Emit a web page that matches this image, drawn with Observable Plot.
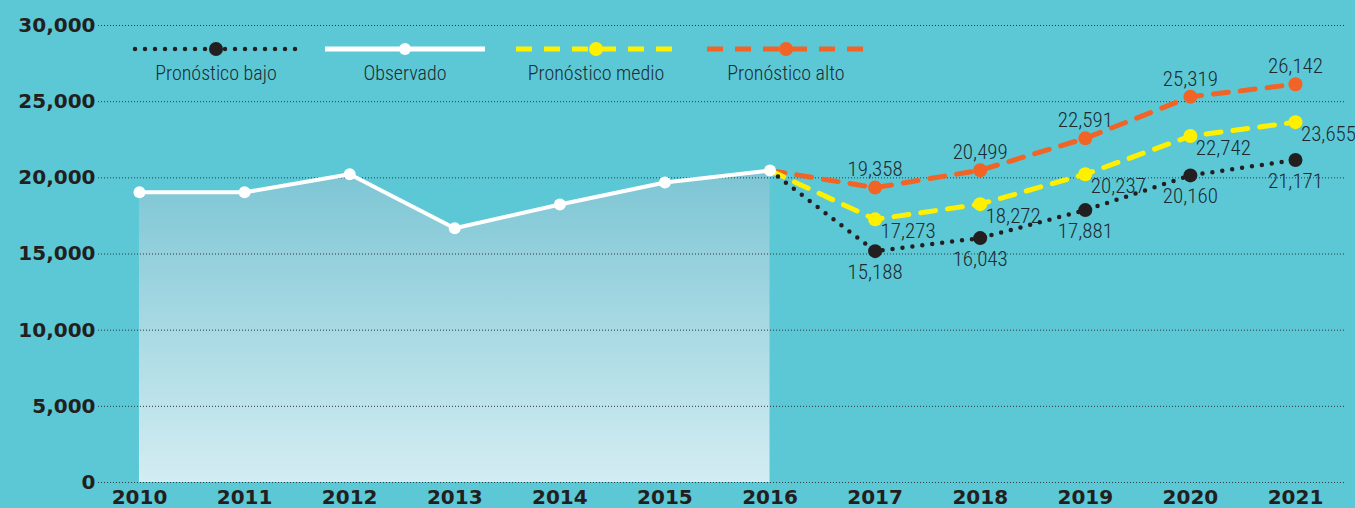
<!DOCTYPE html>
<html>
<head>
<meta charset="utf-8">
<script src="https://cdn.jsdelivr.net/npm/d3@7"></script>
<script src="https://cdn.jsdelivr.net/npm/@observablehq/plot@0.6"></script>
<style>
  html, body { margin: 0; padding: 0; background: #5cc8d6; }
  #wrap { position: relative; width: 1355px; height: 508px; background: #5cc8d6; overflow: hidden; }
  #wrap svg { display: block; }
  #legend { position: absolute; left: 0; top: 0; }
</style>
</head>
<body>
<div id="wrap"></div>
<script>
// ---- data ----
const years = [2010, 2011, 2012, 2013, 2014, 2015, 2016];
const observed = [19050, 19050, 20230, 16690, 18250, 19690, 20480];
const forecastYears = [2017, 2018, 2019, 2020, 2021];
const bajo = [15188, 16043, 17881, 20160, 21171];
const medio = [17273, 18272, 20237, 22742, 23655];
const alto = [19358, 20499, 22591, 25319, 26142];
const xTickLabels = [2010, 2011, 2012, 2013, 2014, 2015, 2016, 2017, 2018, 2019, 2020, 2021];
const yTickValues = [0, 5000, 10000, 15000, 20000, 25000, 30000];
const legendNames = ["Pronóstico bajo", "Observado", "Pronóstico medio", "Pronóstico alto"];

// ---- tables ----
const obs = years.map((y, i) => ({year: y, value: observed[i]}));
const last = obs[obs.length - 1];
const mk = arr => forecastYears.map((y, i) => ({year: y, value: arr[i]}));
const bajoPts = mk(bajo), medioPts = mk(medio), altoPts = mk(alto);
const withStart = pts => [last, ...pts];

const BLACK = "#231f20", YELLOW = "#fff000", ORANGE = "#f26425", WHITE = "#ffffff";
const LABEL = "#1d2b30";
const NARROW = "'Roboto Condensed', 'Liberation Sans Narrow', 'DejaVu Sans Condensed', sans-serif";
const HEAVY = "'DejaVu Sans', sans-serif";
const fmt = d3.format(",");

function gradientDefs() {
  const defs = d3.create("svg:defs");
  const g = defs.append("linearGradient").attr("id", "obsGrad")
    .attr("x1", 0).attr("y1", 0).attr("x2", 0).attr("y2", 1);
  g.append("stop").attr("offset", "0%").attr("stop-color", "#7cc5d4");
  g.append("stop").attr("offset", "100%").attr("stop-color", "#d3edf2");
  return defs.node();
}

const labelStyle = {fill: LABEL, fontSize: 21, fontWeight: 300, fontFamily: NARROW};

const chart = Plot.plot({
  width: 1355,
  height: 508,
  marginLeft: 98,
  marginRight: 10,
  marginTop: 25,
  marginBottom: 26,
  style: {background: "transparent", overflow: "visible"},
  x: {domain: [2009.61, 2021.476], axis: null},
  y: {domain: [0, 30000], axis: null},
  marks: [
    gradientDefs,
    Plot.areaY(obs, {x: "year", y: "value", fill: "url(#obsGrad)"}),
    Plot.ruleY(yTickValues, {y: d => d, stroke: "#2b3a3d", strokeWidth: 1, strokeDasharray: "1 2"}),
    // forecast lines
    Plot.line(withStart(altoPts), {x: "year", y: "value", stroke: ORANGE, strokeWidth: 5, strokeDasharray: "15 12"}),
    Plot.line(withStart(medioPts), {x: "year", y: "value", stroke: YELLOW, strokeWidth: 5, strokeDasharray: "15 12"}),
    Plot.line(withStart(bajoPts), {x: "year", y: "value", stroke: BLACK, strokeWidth: 4.5, strokeDasharray: "0 10", strokeLinecap: "round"}),
    Plot.dot(altoPts, {x: "year", y: "value", r: 7, fill: ORANGE}),
    Plot.dot(medioPts, {x: "year", y: "value", r: 7, fill: YELLOW}),
    Plot.dot(bajoPts, {x: "year", y: "value", r: 7, fill: BLACK}),
    // observed
    Plot.line(obs, {x: "year", y: "value", stroke: WHITE, strokeWidth: 4}),
    Plot.dot(obs, {x: "year", y: "value", r: 6, fill: WHITE}),
    // value labels
    Plot.text(altoPts, {x: "year", y: "value", text: d => fmt(d.value), dy: -18, ...labelStyle}),
    Plot.text(medioPts, {x: "year", y: "value", text: d => fmt(d.value), dx: 33, dy: 12, ...labelStyle}),
    Plot.text(bajoPts, {x: "year", y: "value", text: d => fmt(d.value), dy: 21, ...labelStyle}),
    // axes as text marks
    Plot.text(yTickValues, {y: d => d, frameAnchor: "left", textAnchor: "end", dx: -3, text: d => fmt(d), fill: BLACK, fontSize: 20, fontWeight: "bold", fontFamily: HEAVY}),
    Plot.text(xTickLabels, {x: d => d, y: () => 0, dy: 15, text: d => String(d), fill: BLACK, fontSize: 20, fontWeight: "bold", fontFamily: HEAVY})
  ]
});

const wrap = document.getElementById("wrap");
wrap.appendChild(chart);

// legend overlay
const leg = d3.select(wrap).append("svg").attr("id", "legend").attr("width", 1355).attr("height", 100);
const centers = [216, 405, 596, 786];
const halfW = [81, 80, 80, 79];
const styles = [
  {stroke: BLACK, w: 4.5, dash: "0 10", cap: "round", r: 7},
  {stroke: WHITE, w: 5, dash: null, cap: "butt", r: 6},
  {stroke: YELLOW, w: 5, dash: "16 12", cap: "butt", r: 7},
  {stroke: ORANGE, w: 5, dash: "16 12", cap: "butt", r: 7}
];
legendNames.forEach((name, i) => {
  const cx = centers[i], s = styles[i];
  const line = leg.append("line").attr("x1", cx - halfW[i]).attr("x2", cx + halfW[i]).attr("y1", 49).attr("y2", 49)
    .attr("stroke", s.stroke).attr("stroke-width", s.w).attr("stroke-linecap", s.cap);
  if (s.dash) line.attr("stroke-dasharray", s.dash);
  leg.append("circle").attr("cx", cx).attr("cy", 49).attr("r", s.r).attr("fill", s.stroke);
  leg.append("text").attr("x", cx).attr("y", 80).attr("text-anchor", "middle")
    .attr("font-family", NARROW).attr("font-size", 20).attr("font-weight", 300)
    .attr("fill", LABEL).text(name);
});
</script>
</body>
</html>
